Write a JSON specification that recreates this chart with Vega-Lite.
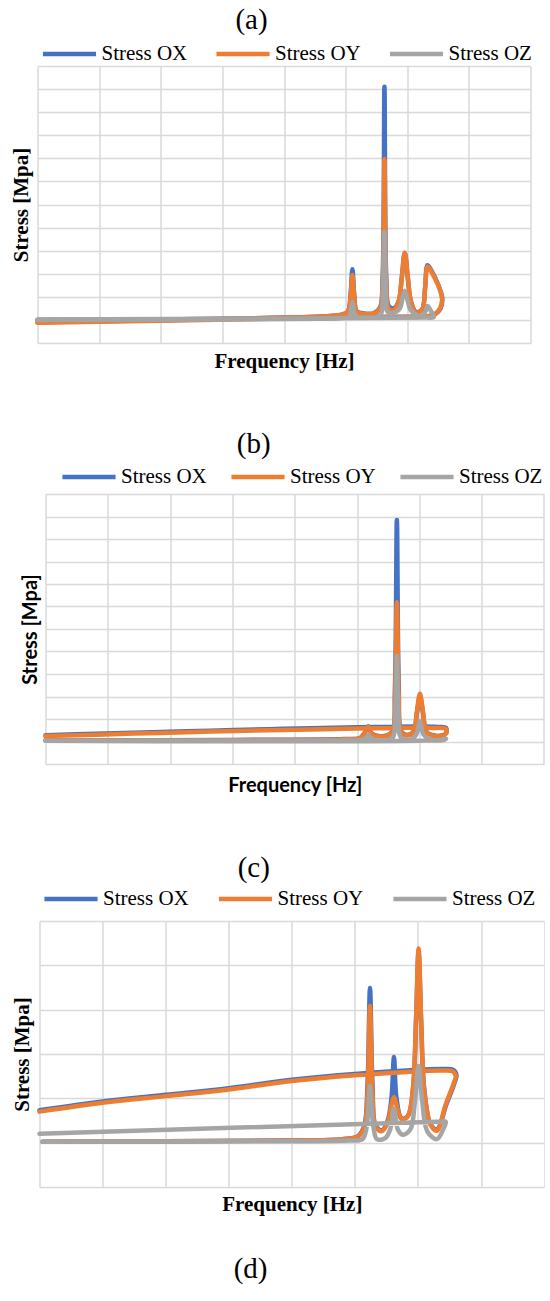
{
  "$schema": "https://vega.github.io/schema/vega-lite/v6.json",
  "background": "white",
  "padding": {"left": 9.5, "top": 6, "right": 0, "bottom": 0},
  "config": {
    "view": {"stroke": null},
    "axis": {"grid": true, "gridColor": "#D9D9D9", "gridWidth": 1.5, "domain": false, "ticks": false, "labels": false, "titleColor": "black", "titleFont": "Liberation Serif", "titleFontSize": 21, "titleFontWeight": "bold"},
    "legend": {"orient": "none", "direction": "horizontal", "title": null, "padding": 0, "labelFont": "Liberation Serif", "labelFontSize": 21, "labelColor": "black", "labelLimit": 300, "symbolType": "M-2,0H2", "symbolSize": 706, "symbolStrokeWidth": 4, "labelOffset": 16},
    "title": {"font": "Liberation Serif", "fontSize": 29, "fontWeight": "normal", "color": "black", "frame": "group", "anchor": "middle"},
    "line": {"strokeWidth": 4.5, "clip": true, "interpolate": "catmull-rom", "strokeCap": "round", "strokeJoin": "round"}
  },
  "title": {"text": "(d)", "orient": "bottom", "anchor": "middle", "frame": "bounds", "offset": 41, "dx": -26.5},
  "datasets": {
    "a": [
      {"s":"Stress OX","i":0,"f":0,"v":0},{"s":"Stress OX","i":1,"f":2,"v":0.02},{"s":"Stress OX","i":2,"f":3,"v":0.05},{"s":"Stress OX","i":3,"f":4,"v":0.1},{"s":"Stress OX","i":4,"f":4.6,"v":0.15},{"s":"Stress OX","i":5,"f":4.95,"v":0.24},{"s":"Stress OX","i":6,"f":5.04,"v":0.38},{"s":"Stress OX","i":7,"f":5.08,"v":1.1},{"s":"Stress OX","i":8,"f":5.11,"v":2.2},{"s":"Stress OX","i":9,"f":5.14,"v":1.1},{"s":"Stress OX","i":10,"f":5.18,"v":0.38},{"s":"Stress OX","i":11,"f":5.3,"v":0.28},{"s":"Stress OX","i":12,"f":5.46,"v":0.3},{"s":"Stress OX","i":13,"f":5.56,"v":0.55},{"s":"Stress OX","i":14,"f":5.6,"v":1.8},{"s":"Stress OX","i":15,"f":5.63,"v":10.1},{"s":"Stress OX","i":16,"f":5.66,"v":1.8},{"s":"Stress OX","i":17,"f":5.7,"v":0.6},{"s":"Stress OX","i":18,"f":5.78,"v":0.5},{"s":"Stress OX","i":19,"f":5.86,"v":0.8},{"s":"Stress OX","i":20,"f":5.91,"v":1.8},{"s":"Stress OX","i":21,"f":5.96,"v":2.9},{"s":"Stress OX","i":22,"f":6.01,"v":1.8},{"s":"Stress OX","i":23,"f":6.06,"v":0.8},{"s":"Stress OX","i":24,"f":6.14,"v":0.35},{"s":"Stress OX","i":25,"f":6.24,"v":0.45},{"s":"Stress OX","i":26,"f":6.29,"v":1.4},{"s":"Stress OX","i":27,"f":6.33,"v":2.37},{"s":"Stress OX","i":28,"f":6.41,"v":2.05},{"s":"Stress OX","i":29,"f":6.49,"v":1.6},{"s":"Stress OX","i":30,"f":6.55,"v":1.16},{"s":"Stress OX","i":31,"f":6.57,"v":0.87},{"s":"Stress OX","i":32,"f":6.54,"v":0.5},{"s":"Stress OX","i":33,"f":6.46,"v":0.26},{"s":"Stress OX","i":34,"f":6.38,"v":0.18},{"s":"Stress OX","i":35,"f":5.1,"v":0.13},{"s":"Stress OX","i":36,"f":0,"v":-0.1},
      {"s":"Stress OY","i":0,"f":0,"v":0},{"s":"Stress OY","i":1,"f":2,"v":0.02},{"s":"Stress OY","i":2,"f":3,"v":0.05},{"s":"Stress OY","i":3,"f":4,"v":0.1},{"s":"Stress OY","i":4,"f":4.6,"v":0.15},{"s":"Stress OY","i":5,"f":4.95,"v":0.23},{"s":"Stress OY","i":6,"f":5.04,"v":0.36},{"s":"Stress OY","i":7,"f":5.08,"v":1.0},{"s":"Stress OY","i":8,"f":5.11,"v":1.95},{"s":"Stress OY","i":9,"f":5.14,"v":1.0},{"s":"Stress OY","i":10,"f":5.18,"v":0.36},{"s":"Stress OY","i":11,"f":5.3,"v":0.26},{"s":"Stress OY","i":12,"f":5.46,"v":0.28},{"s":"Stress OY","i":13,"f":5.56,"v":0.5},{"s":"Stress OY","i":14,"f":5.6,"v":1.5},{"s":"Stress OY","i":15,"f":5.63,"v":6.97},{"s":"Stress OY","i":16,"f":5.66,"v":1.5},{"s":"Stress OY","i":17,"f":5.7,"v":0.5},{"s":"Stress OY","i":18,"f":5.78,"v":0.42},{"s":"Stress OY","i":19,"f":5.86,"v":0.8},{"s":"Stress OY","i":20,"f":5.91,"v":1.8},{"s":"Stress OY","i":21,"f":5.96,"v":2.91},{"s":"Stress OY","i":22,"f":6.01,"v":1.8},{"s":"Stress OY","i":23,"f":6.06,"v":0.8},{"s":"Stress OY","i":24,"f":6.14,"v":0.33},{"s":"Stress OY","i":25,"f":6.24,"v":0.43},{"s":"Stress OY","i":26,"f":6.29,"v":1.38},{"s":"Stress OY","i":27,"f":6.33,"v":2.31},{"s":"Stress OY","i":28,"f":6.41,"v":2.0},{"s":"Stress OY","i":29,"f":6.49,"v":1.57},{"s":"Stress OY","i":30,"f":6.55,"v":1.14},{"s":"Stress OY","i":31,"f":6.565,"v":0.86},{"s":"Stress OY","i":32,"f":6.53,"v":0.49},{"s":"Stress OY","i":33,"f":6.45,"v":0.25},{"s":"Stress OY","i":34,"f":6.37,"v":0.17},{"s":"Stress OY","i":35,"f":5.1,"v":0.11},{"s":"Stress OY","i":36,"f":0,"v":-0.12},
      {"s":"Stress OZ","i":0,"f":0,"v":0},{"s":"Stress OZ","i":1,"f":3,"v":0.02},{"s":"Stress OZ","i":2,"f":4.5,"v":0.05},{"s":"Stress OZ","i":3,"f":5.0,"v":0.08},{"s":"Stress OZ","i":4,"f":5.06,"v":0.15},{"s":"Stress OZ","i":5,"f":5.09,"v":0.45},{"s":"Stress OZ","i":6,"f":5.11,"v":0.78},{"s":"Stress OZ","i":7,"f":5.13,"v":0.45},{"s":"Stress OZ","i":8,"f":5.16,"v":0.15},{"s":"Stress OZ","i":9,"f":5.3,"v":0.1},{"s":"Stress OZ","i":10,"f":5.5,"v":0.12},{"s":"Stress OZ","i":11,"f":5.58,"v":0.3},{"s":"Stress OZ","i":12,"f":5.605,"v":1.2},{"s":"Stress OZ","i":13,"f":5.63,"v":3.82},{"s":"Stress OZ","i":14,"f":5.655,"v":1.2},{"s":"Stress OZ","i":15,"f":5.68,"v":0.35},{"s":"Stress OZ","i":16,"f":5.76,"v":0.3},{"s":"Stress OZ","i":17,"f":5.88,"v":0.5},{"s":"Stress OZ","i":18,"f":5.92,"v":0.9},{"s":"Stress OZ","i":19,"f":5.96,"v":1.26},{"s":"Stress OZ","i":20,"f":6.0,"v":0.9},{"s":"Stress OZ","i":21,"f":6.05,"v":0.45},{"s":"Stress OZ","i":22,"f":6.13,"v":0.25},{"s":"Stress OZ","i":23,"f":6.24,"v":0.15},{"s":"Stress OZ","i":24,"f":6.3,"v":0.4},{"s":"Stress OZ","i":25,"f":6.33,"v":0.6},{"s":"Stress OZ","i":26,"f":6.38,"v":0.4},{"s":"Stress OZ","i":27,"f":6.43,"v":0.12},{"s":"Stress OZ","i":28,"f":6.3,"v":0.1},{"s":"Stress OZ","i":29,"f":0,"v":0.02}
    ],
    "b": [
      {"s":"Stress OX","i":0,"f":0,"v":0.05},{"s":"Stress OX","i":1,"f":3,"v":0.07},{"s":"Stress OX","i":2,"f":4.8,"v":0.11},{"s":"Stress OX","i":3,"f":5.05,"v":0.16},{"s":"Stress OX","i":4,"f":5.12,"v":0.38},{"s":"Stress OX","i":5,"f":5.18,"v":0.67},{"s":"Stress OX","i":6,"f":5.23,"v":0.38},{"s":"Stress OX","i":7,"f":5.3,"v":0.27},{"s":"Stress OX","i":8,"f":5.48,"v":0.27},{"s":"Stress OX","i":9,"f":5.57,"v":0.45},{"s":"Stress OX","i":10,"f":5.61,"v":2.5},{"s":"Stress OX","i":11,"f":5.64,"v":9.85},{"s":"Stress OX","i":12,"f":5.67,"v":2.5},{"s":"Stress OX","i":13,"f":5.71,"v":0.45},{"s":"Stress OX","i":14,"f":5.8,"v":0.29},{"s":"Stress OX","i":15,"f":5.91,"v":0.45},{"s":"Stress OX","i":16,"f":5.96,"v":1.25},{"s":"Stress OX","i":17,"f":6.01,"v":2.0},{"s":"Stress OX","i":18,"f":6.06,"v":1.25},{"s":"Stress OX","i":19,"f":6.11,"v":0.45},{"s":"Stress OX","i":20,"f":6.2,"v":0.29},{"s":"Stress OX","i":21,"f":6.36,"v":0.27},{"s":"Stress OX","i":22,"f":6.43,"v":0.37},{"s":"Stress OX","i":23,"f":6.43,"v":0.6},{"s":"Stress OX","i":24,"f":6.3,"v":0.65},{"s":"Stress OX","i":25,"f":0,"v":0.28},
      {"s":"Stress OY","i":0,"f":0,"v":0.04},{"s":"Stress OY","i":1,"f":3,"v":0.06},{"s":"Stress OY","i":2,"f":4.8,"v":0.1},{"s":"Stress OY","i":3,"f":5.05,"v":0.15},{"s":"Stress OY","i":4,"f":5.12,"v":0.35},{"s":"Stress OY","i":5,"f":5.18,"v":0.65},{"s":"Stress OY","i":6,"f":5.23,"v":0.35},{"s":"Stress OY","i":7,"f":5.3,"v":0.25},{"s":"Stress OY","i":8,"f":5.48,"v":0.25},{"s":"Stress OY","i":9,"f":5.57,"v":0.4},{"s":"Stress OY","i":10,"f":5.61,"v":2.0},{"s":"Stress OY","i":11,"f":5.64,"v":6.19},{"s":"Stress OY","i":12,"f":5.67,"v":2.0},{"s":"Stress OY","i":13,"f":5.71,"v":0.4},{"s":"Stress OY","i":14,"f":5.8,"v":0.27},{"s":"Stress OY","i":15,"f":5.91,"v":0.45},{"s":"Stress OY","i":16,"f":5.96,"v":1.3},{"s":"Stress OY","i":17,"f":6.01,"v":2.12},{"s":"Stress OY","i":18,"f":6.06,"v":1.3},{"s":"Stress OY","i":19,"f":6.11,"v":0.45},{"s":"Stress OY","i":20,"f":6.2,"v":0.27},{"s":"Stress OY","i":21,"f":6.36,"v":0.25},{"s":"Stress OY","i":22,"f":6.43,"v":0.35},{"s":"Stress OY","i":23,"f":6.43,"v":0.55},{"s":"Stress OY","i":24,"f":6.3,"v":0.6},{"s":"Stress OY","i":25,"f":0,"v":0.24},
      {"s":"Stress OZ","i":0,"f":0,"v":0.03},{"s":"Stress OZ","i":1,"f":4.8,"v":0.05},{"s":"Stress OZ","i":2,"f":5.1,"v":0.08},{"s":"Stress OZ","i":3,"f":5.15,"v":0.18},{"s":"Stress OZ","i":4,"f":5.18,"v":0.3},{"s":"Stress OZ","i":5,"f":5.21,"v":0.18},{"s":"Stress OZ","i":6,"f":5.28,"v":0.07},{"s":"Stress OZ","i":7,"f":5.5,"v":0.07},{"s":"Stress OZ","i":8,"f":5.58,"v":0.2},{"s":"Stress OZ","i":9,"f":5.615,"v":1.2},{"s":"Stress OZ","i":10,"f":5.64,"v":3.82},{"s":"Stress OZ","i":11,"f":5.665,"v":1.2},{"s":"Stress OZ","i":12,"f":5.7,"v":0.2},{"s":"Stress OZ","i":13,"f":5.85,"v":0.08},{"s":"Stress OZ","i":14,"f":5.95,"v":0.3},{"s":"Stress OZ","i":15,"f":6.01,"v":0.9},{"s":"Stress OZ","i":16,"f":6.07,"v":0.3},{"s":"Stress OZ","i":17,"f":6.2,"v":0.08},{"s":"Stress OZ","i":18,"f":6.38,"v":0.06},{"s":"Stress OZ","i":19,"f":6.43,"v":0.12},{"s":"Stress OZ","i":20,"f":6.36,"v":0.08},{"s":"Stress OZ","i":21,"f":0,"v":0.03}
    ],
    "c": [
      {"s":"Stress OX","i":0,"f":0.05,"v":0.02},{"s":"Stress OX","i":1,"f":2,"v":0.03},{"s":"Stress OX","i":2,"f":4,"v":0.05},{"s":"Stress OX","i":3,"f":4.8,"v":0.08},{"s":"Stress OX","i":4,"f":5.05,"v":0.15},{"s":"Stress OX","i":5,"f":5.15,"v":0.38},{"s":"Stress OX","i":6,"f":5.2,"v":1.3},{"s":"Stress OX","i":7,"f":5.24,"v":3.49},{"s":"Stress OX","i":8,"f":5.28,"v":1.3},{"s":"Stress OX","i":9,"f":5.33,"v":0.38},{"s":"Stress OX","i":10,"f":5.43,"v":0.28},{"s":"Stress OX","i":11,"f":5.52,"v":0.5},{"s":"Stress OX","i":12,"f":5.58,"v":1.0},{"s":"Stress OX","i":13,"f":5.62,"v":1.93},{"s":"Stress OX","i":14,"f":5.66,"v":1.0},{"s":"Stress OX","i":15,"f":5.74,"v":0.55},{"s":"Stress OX","i":16,"f":5.84,"v":0.6},{"s":"Stress OX","i":17,"f":5.92,"v":1.2},{"s":"Stress OX","i":18,"f":5.97,"v":2.75},{"s":"Stress OX","i":19,"f":6.01,"v":4.3},{"s":"Stress OX","i":20,"f":6.05,"v":2.75},{"s":"Stress OX","i":21,"f":6.1,"v":1.2},{"s":"Stress OX","i":22,"f":6.2,"v":0.42},{"s":"Stress OX","i":23,"f":6.3,"v":0.3},{"s":"Stress OX","i":24,"f":6.45,"v":0.86},{"s":"Stress OX","i":25,"f":6.58,"v":1.35},{"s":"Stress OX","i":26,"f":6.61,"v":1.52},{"s":"Stress OX","i":27,"f":6.56,"v":1.64},{"s":"Stress OX","i":28,"f":6.41,"v":1.66},{"s":"Stress OX","i":29,"f":5,"v":1.55},{"s":"Stress OX","i":30,"f":4,"v":1.42},{"s":"Stress OX","i":31,"f":3,"v":1.23},{"s":"Stress OX","i":32,"f":2,"v":1.08},{"s":"Stress OX","i":33,"f":1,"v":0.93},{"s":"Stress OX","i":34,"f":0,"v":0.73},
      {"s":"Stress OY","i":0,"f":0.05,"v":0.02},{"s":"Stress OY","i":1,"f":2,"v":0.03},{"s":"Stress OY","i":2,"f":4,"v":0.05},{"s":"Stress OY","i":3,"f":4.8,"v":0.08},{"s":"Stress OY","i":4,"f":5.05,"v":0.14},{"s":"Stress OY","i":5,"f":5.15,"v":0.35},{"s":"Stress OY","i":6,"f":5.2,"v":1.1},{"s":"Stress OY","i":7,"f":5.24,"v":3.08},{"s":"Stress OY","i":8,"f":5.28,"v":1.1},{"s":"Stress OY","i":9,"f":5.33,"v":0.35},{"s":"Stress OY","i":10,"f":5.43,"v":0.26},{"s":"Stress OY","i":11,"f":5.52,"v":0.45},{"s":"Stress OY","i":12,"f":5.58,"v":0.85},{"s":"Stress OY","i":13,"f":5.62,"v":1.03},{"s":"Stress OY","i":14,"f":5.66,"v":0.85},{"s":"Stress OY","i":15,"f":5.74,"v":0.53},{"s":"Stress OY","i":16,"f":5.84,"v":0.6},{"s":"Stress OY","i":17,"f":5.92,"v":1.2},{"s":"Stress OY","i":18,"f":5.97,"v":2.8},{"s":"Stress OY","i":19,"f":6.01,"v":4.38},{"s":"Stress OY","i":20,"f":6.05,"v":2.8},{"s":"Stress OY","i":21,"f":6.1,"v":1.2},{"s":"Stress OY","i":22,"f":6.2,"v":0.4},{"s":"Stress OY","i":23,"f":6.3,"v":0.27},{"s":"Stress OY","i":24,"f":6.44,"v":0.86},{"s":"Stress OY","i":25,"f":6.57,"v":1.35},{"s":"Stress OY","i":26,"f":6.6,"v":1.5},{"s":"Stress OY","i":27,"f":6.55,"v":1.61},{"s":"Stress OY","i":28,"f":6.41,"v":1.63},{"s":"Stress OY","i":29,"f":5,"v":1.52},{"s":"Stress OY","i":30,"f":4,"v":1.39},{"s":"Stress OY","i":31,"f":3,"v":1.2},{"s":"Stress OY","i":32,"f":2,"v":1.05},{"s":"Stress OY","i":33,"f":1,"v":0.9},{"s":"Stress OY","i":34,"f":0,"v":0.7},
      {"s":"Stress OZ","i":0,"f":0.05,"v":0.02},{"s":"Stress OZ","i":1,"f":3,"v":0.03},{"s":"Stress OZ","i":2,"f":4.9,"v":0.05},{"s":"Stress OZ","i":3,"f":5.12,"v":0.08},{"s":"Stress OZ","i":4,"f":5.18,"v":0.3},{"s":"Stress OZ","i":5,"f":5.22,"v":0.9},{"s":"Stress OZ","i":6,"f":5.24,"v":1.28},{"s":"Stress OZ","i":7,"f":5.26,"v":0.9},{"s":"Stress OZ","i":8,"f":5.3,"v":0.3},{"s":"Stress OZ","i":9,"f":5.35,"v":0.08},{"s":"Stress OZ","i":10,"f":5.48,"v":0.1},{"s":"Stress OZ","i":11,"f":5.56,"v":0.3},{"s":"Stress OZ","i":12,"f":5.62,"v":0.77},{"s":"Stress OZ","i":13,"f":5.68,"v":0.3},{"s":"Stress OZ","i":14,"f":5.76,"v":0.18},{"s":"Stress OZ","i":15,"f":5.88,"v":0.3},{"s":"Stress OZ","i":16,"f":5.95,"v":0.9},{"s":"Stress OZ","i":17,"f":6.01,"v":1.73},{"s":"Stress OZ","i":18,"f":6.07,"v":0.9},{"s":"Stress OZ","i":19,"f":6.15,"v":0.25},{"s":"Stress OZ","i":20,"f":6.3,"v":0.08},{"s":"Stress OZ","i":21,"f":6.4,"v":0.3},{"s":"Stress OZ","i":22,"f":6.44,"v":0.47},{"s":"Stress OZ","i":23,"f":6.3,"v":0.47},{"s":"Stress OZ","i":24,"f":0,"v":0.2}
    ]
  },
  "spacing": 59,
  "resolve": {"scale": {"color": "independent"}, "legend": {"color": "independent"}},
  "vconcat": [
    {
      "width": 493, "height": 277,
      "title": {"text": "(a)", "dx": -32.5, "offset": 3},
      "data": {"name": "a"},
      "mark": {"type": "line"},
      "encoding": {
        "x": {"field": "f", "type": "quantitative", "scale": {"domain": [0, 8], "nice": false, "zero": false}, "axis": {"values": [0,1,2,3,4,5,6,7,8], "title": "Frequency [Hz]", "titlePadding": 7}},
        "y": {"field": "v", "type": "quantitative", "scale": {"domain": [-1, 11], "nice": false, "zero": false}, "axis": {"values": [-1,0,1,2,3,4,5,6,7,8,9,10,11], "title": "Stress [Mpa]", "titlePadding": 6.5}},
        "color": {"field": "s", "type": "nominal", "scale": {"domain": ["Stress OX", "Stress OY", "Stress OZ"], "range": ["#4472C4", "#ED7D31", "#A5A5A5"]}, "legend": {"legendX": 16, "legendY": -28, "columnPadding": 26.5}},
        "order": {"field": "i", "type": "quantitative"}
      }
    },
    {
      "hconcat": [
        {"width": 7.6, "height": 270, "data": {"values": []}, "mark": "point"},
        {
          "width": 498.4, "height": 270,
          "title": {"text": "(b)", "dx": -41, "offset": 2},
          "data": {"name": "b"},
          "mark": {"type": "line"},
          "encoding": {
            "x": {"field": "f", "type": "quantitative", "scale": {"domain": [0, 8], "nice": false, "zero": false}, "axis": {"values": [0,1,2,3,4,5,6,7,8], "title": "Frequency [Hz]", "titlePadding": 11, "titleFont": "Lato", "titleFontSize": 20}},
            "y": {"field": "v", "type": "quantitative", "scale": {"domain": [-1, 11], "nice": false, "zero": false}, "axis": {"values": [-1,0,1,2,3,4,5,6,7,8,9,10,11], "title": "Stress [Mpa]", "titlePadding": 5, "titleFont": "Lato", "titleFontSize": 20}},
            "color": {"field": "s", "type": "nominal", "scale": {"domain": ["Stress OX", "Stress OY", "Stress OZ"], "range": ["#4472C4", "#ED7D31", "#A5A5A5"]}, "legend": {"legendX": 27.5, "legendY": -33, "columnPadding": 22}},
            "order": {"field": "i", "type": "quantitative"}
          }
        }
      ],
      "spacing": 0,
      "bounds": "flush",
      "resolve": {"scale": {"color": "independent"}, "legend": {"color": "independent"}}
    },
    {
      "hconcat": [
        {"width": 1.6, "height": 266, "data": {"values": []}, "mark": "point"},
        {
          "width": 504.6, "height": 266,
          "title": {"text": "(c)", "dx": -38, "offset": 0},
          "data": {"name": "c"},
          "mark": {"type": "line"},
          "encoding": {
            "x": {"field": "f", "type": "quantitative", "scale": {"domain": [0, 8], "nice": false, "zero": false}, "axis": {"values": [0,1,2,3,4,5,6,7,8], "title": "Frequency [Hz]", "titlePadding": 6}},
            "y": {"field": "v", "type": "quantitative", "scale": {"domain": [-1, 5], "nice": false, "zero": false}, "axis": {"values": [-1,0,1,2,3,4,5], "title": "Stress [Mpa]", "titlePadding": 7}},
            "color": {"field": "s", "type": "nominal", "scale": {"domain": ["Stress OX", "Stress OY", "Stress OZ"], "range": ["#4472C4", "#ED7D31", "#A5A5A5"]}, "legend": {"legendX": 15.5, "legendY": -38, "columnPadding": 27.5}},
            "order": {"field": "i", "type": "quantitative"}
          }
        }
      ],
      "spacing": 0,
      "bounds": "flush",
      "resolve": {"scale": {"color": "independent"}, "legend": {"color": "independent"}}
    }
  ]
}
